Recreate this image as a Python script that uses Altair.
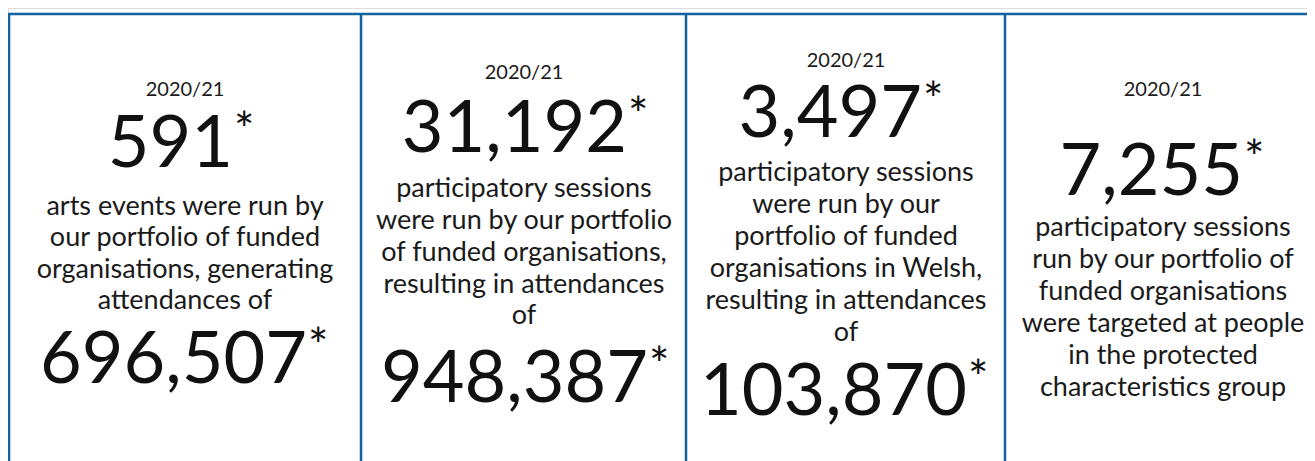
import altair as alt
import pandas as pd

# ---- content ----
years = ["2020/21", "2020/21", "2020/21", "2020/21"]
headline = ["591", "31,192", "3,497", "7,255"]
body = [
    ["arts events were run by", "our portfolio of funded",
     "organisations, generating", "attendances of"],
    ["participatory sessions", "were run by our portfolio",
     "of funded organisations,", "resulting in attendances", "of"],
    ["participatory sessions", "were run by our", "portfolio of funded",
     "organisations in Welsh,", "resulting in attendances", "of"],
    ["participatory sessions", "run by our portfolio of", "funded organisations",
     "were targeted at people", "in the protected", "characteristics group"],
]
second = ["696,507", "948,387", "103,870", ""]

# ---- layout (page pixels) ----
panel_center = [185, 524, 846, 1163]
year_base = [96, 79, 67, 96]
head_right = [233, 627, 922, 1243]
head_base = [167, 152, 137, 195]
body_base = [
    [215, 246, 278, 309],
    [197, 229, 261, 293, 324],
    [181, 213, 245, 277, 309, 341],
    [236, 268, 300, 332, 364, 396],
]
second_right = [307, 648, 967, 0]
second_base = [383, 402, 415, 0]
digit_cap = 54

edges_x = [9, 361, 686, 1005]
top_y = 14
W, H, M = 1299, 453, 8

rows = []
for i in range(4):
    rows.append(dict(t=years[i], x=panel_center[i], y=year_base[i], kind="year"))
    rows.append(dict(t=headline[i], x=head_right[i], y=head_base[i], kind="num"))
    rows.append(dict(t="*", x=head_right[i] + 1, y=head_base[i] - digit_cap + 34, kind="star"))
    for line, b in zip(body[i], body_base[i]):
        rows.append(dict(t=line, x=panel_center[i], y=b, kind="body"))
    if second[i]:
        rows.append(dict(t=second[i], x=second_right[i], y=second_base[i], kind="num"))
        rows.append(dict(t="*", x=second_right[i] + 1, y=second_base[i] - digit_cap + 34, kind="star"))
df = pd.DataFrame(rows)

vlines = pd.DataFrame({"x": edges_x, "y": [top_y - 1] * 4, "y2": [470] * 4})
hline = pd.DataFrame({"x": [edges_x[0] - 1], "x2": [1320], "y": [top_y]})

xs = alt.Scale(domain=[M, M + W], range=[0, W])
ys = alt.Scale(domain=[M, M + H], range=[0, H])
blue = "#12639d"
font = "Lato"

def X(f="x"):
    return alt.X(f"{f}:Q", scale=xs, axis=None)

def Y(f="y"):
    return alt.Y(f"{f}:Q", scale=ys, axis=None)

v = alt.Chart(vlines).mark_rule(color=blue, strokeWidth=2.5, clip=True).encode(
    x=X(), y=Y(), y2="y2:Q")
h = alt.Chart(hline).mark_rule(color=blue, strokeWidth=2.5, clip=True).encode(
    x=X(), x2="x2:Q", y=Y())

base = alt.Chart(df)
year_t = base.transform_filter(alt.datum.kind == "year").mark_text(
    font=font, fontSize=20, align="center", baseline="alphabetic", color="#1a1a1a"
).encode(x=X(), y=Y(), text="t:N")
body_t = base.transform_filter(alt.datum.kind == "body").mark_text(
    font=font, fontSize=27, align="center", baseline="alphabetic", color="#1a1a1a"
).encode(x=X(), y=Y(), text="t:N")
num_t = base.transform_filter(alt.datum.kind == "num").mark_text(
    font=font, fontSize=72, align="right", baseline="alphabetic", color="#111111"
).encode(x=X(), y=Y(), text="t:N")
star_t = base.transform_filter(alt.datum.kind == "star").mark_text(
    font=font, fontSize=48, align="left", baseline="alphabetic", color="#111111"
).encode(x=X(), y=Y(), text="t:N")

chart = alt.layer(v, h, year_t, body_t, num_t, star_t).properties(
    width=W, height=H, padding=0
).configure_view(stroke=None).configure(background="white")

chart.save("out.html", embed_options={"renderer": "svg", "actions": False})
